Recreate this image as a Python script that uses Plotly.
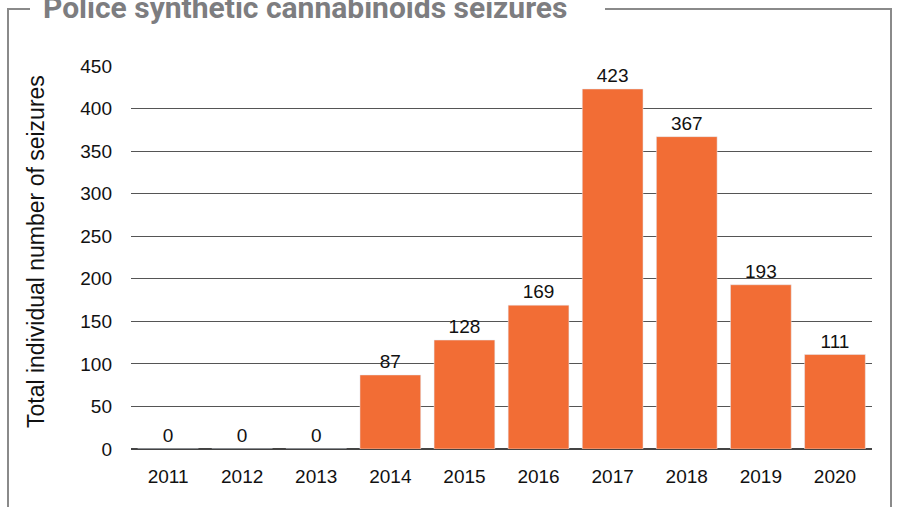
import plotly.graph_objects as go

years = ["2011", "2012", "2013", "2014", "2015", "2016", "2017", "2018", "2019", "2020"]
seizures = [0, 0, 0, 87, 128, 169, 423, 367, 193, 111]
y_ticks = [0, 50, 100, 150, 200, 250, 300, 350, 400, 450]

W, H = 897, 507
L, R, T, B = 131, 25, 66, 58
pw, ph = W - L - R, H - T - B


def px_x(p):
    return (p - L) / pw


def px_y(p):
    return (H - B - p) / ph


fig = go.Figure()
fig.add_trace(go.Bar(
    x=years, y=seizures,
    marker_color="#F26D35",
    text=[str(v) for v in seizures],
    textposition="outside",
    textfont=dict(size=19, color="#111111"),
    cliponaxis=False,
))

# grey frame around the chart, with a gap in the top edge for the title
frame = "#8a8a8a"
for x0, x1, y0, y1 in [(8, 8, 9, 530), (891, 891, 9, 530), (7, 30, 9, 9), (605, 892, 9, 9)]:
    fig.add_shape(type="line", xref="paper", yref="paper",
                  x0=px_x(x0), x1=px_x(x1), y0=px_y(y0), y1=px_y(y1),
                  line=dict(color=frame, width=2))

fig.add_annotation(
    text="<b>Police synthetic cannabinoids seizures</b>",
    xref="paper", yref="paper", x=px_x(41), y=px_y(8),
    xanchor="left", yanchor="middle", showarrow=False,
    font=dict(family="Roboto", size=30, color="#7d7d80"),
)

fig.add_annotation(
    text="Total individual number of seizures",
    xref="paper", yref="paper", x=px_x(36), y=px_y(252),
    xanchor="center", yanchor="middle", textangle=-90, showarrow=False,
    font=dict(family="Liberation Sans, Arial", size=23, color="#111111"),
)

fig.update_layout(
    width=W, height=H,
    margin=dict(l=L, r=R, t=T, b=B),
    paper_bgcolor="white", plot_bgcolor="white",
    font=dict(family="Liberation Sans, Arial", size=19, color="#111111"),
    bargap=0.18,
    showlegend=False,
    xaxis=dict(showgrid=False, ticks="", tickfont=dict(size=19), ticklabelstandoff=14),
    yaxis=dict(
        range=[0, 450], tickvals=y_ticks, showgrid=True,
        gridcolor="#555555", gridwidth=1, zeroline=True,
        zerolinecolor="#444444", zerolinewidth=1.5,
        ticks="", ticklabelstandoff=18, tickfont=dict(size=19),
    ),
)

# drop the page's default body margin so the figure fills the window
fig.write_html("out.html", config={"displayModeBar": False},
               post_script="document.body.style.margin='0';")
